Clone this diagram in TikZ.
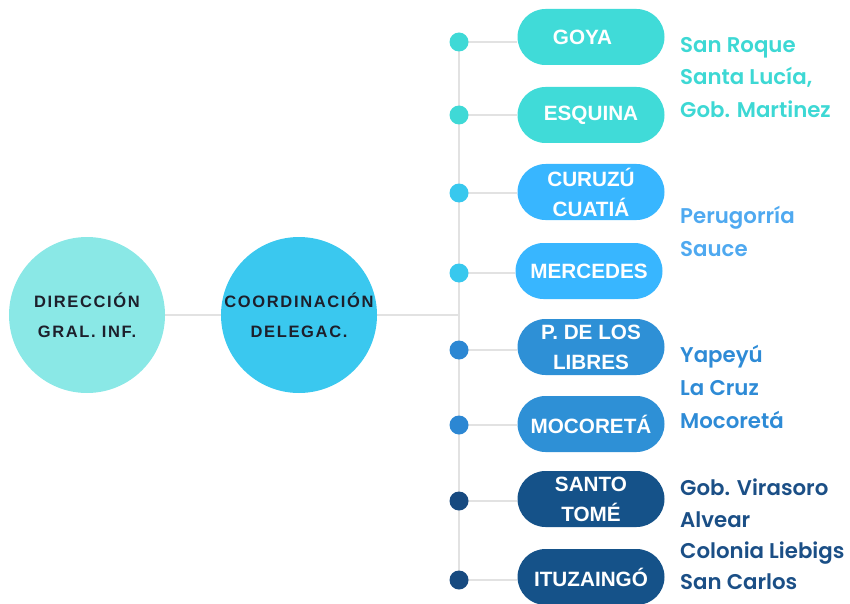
\documentclass[tikz,border=0pt]{standalone}
\usepackage{fontspec}
\setmainfont{Liberation Sans}
\newfontfamily\sidefont{Poppins SemiBold}
\newfontfamily\circfont{Liberation Sans}[LetterSpace=10]
\usetikzlibrary{backgrounds}
\definecolor{cA}{HTML}{8AE8E6}
\definecolor{cB}{HTML}{3AC8EF}
\definecolor{pT}{HTML}{40DBD8}
\definecolor{pC}{HTML}{38B6FF}
\definecolor{pM}{HTML}{2E90D6}
\definecolor{pD}{HTML}{155289}
\definecolor{dT}{HTML}{3FD9D6}
\definecolor{dC}{HTML}{38C8EE}
\definecolor{dM}{HTML}{2C87D3}
\definecolor{dD}{HTML}{174A80}
\definecolor{tT}{HTML}{3DD8D4}
\definecolor{tC}{HTML}{4FA9F0}
\definecolor{tM}{HTML}{2E8BD6}
\definecolor{tD}{HTML}{1B4F86}
\definecolor{lineg}{HTML}{E2E2E2}
\definecolor{darktxt}{HTML}{1D1F2B}
\begin{document}
\begin{tikzpicture}[x=1pt,y=-1pt,
  bigcirc/.style={circle,minimum size=156pt,inner sep=0pt,align=center,
    font=\circfont\bfseries\fontsize{16.5}{30}\selectfont,text=darktxt},
  pill/.style={rectangle,rounded corners=28pt,minimum width=147pt,minimum height=56pt,
    inner sep=0pt,align=center,text=white,font=\bfseries\fontsize{20.7}{30}\selectfont},
  dotn/.style={circle,minimum size=19pt,inner sep=0pt},
  side/.style={anchor=base west,inner sep=0pt,font=\sidefont\fontsize{21.3}{25}\selectfont},
  conn/.style={draw=lineg,line width=2.5pt}]
\useasboundingbox (0,0) rectangle (850,604);
% circles
\node[bigcirc,fill=cA] (c1) at (87,315) {DIRECCIÓN\\GRAL. INF.};
\node[bigcirc,fill=cB] (c2) at (299,315) {COORDINACIÓN\\DELEGAC.};
% dots
\node[dotn,fill=dT] (d1) at (459,42) {};
\node[dotn,fill=dT] (d2) at (459,115) {};
\node[dotn,fill=dC] (d3) at (459,193) {};
\node[dotn,fill=dC] (d4) at (459,273) {};
\node[dotn,fill=dM] (d5) at (459,350) {};
\node[dotn,fill=dM] (d6) at (459,425) {};
\node[dotn,fill=dD] (d7) at (459,501) {};
\node[dotn,fill=dD] (d8) at (459,580) {};
% pills
\node[pill,fill=pT] (p1) at (591,37) {GOYA\hspace*{17pt}};
\node[pill,fill=pT] (p2) at (591,115) {ESQUINA};
\node[pill,fill=pC] (p3) at (591,192) {CURUZÚ\\CUATIÁ};
\node[pill,fill=pC] (p4) at (589,271) {MERCEDES};
\node[pill,fill=pM] (p5) at (591,347) {P. DE LOS\\LIBRES};
\node[pill,fill=pM] (p6) at (591,424) {MOCORETÁ};
\node[pill,fill=pD] (p7) at (591,499) {SANTO\\TOMÉ};
\node[pill,fill=pD] (p8) at (591,577) {ITUZAINGÓ};
% side texts
\node[side,text=tT] (s1) at (680,53) {San Roque};
\node[side,text=tT] (s2) at (680,85) {Santa Lucía,};
\node[side,text=tT] (s3) at (680,118) {Gob. Martinez};
\node[side,text=tC] (s4) at (680,223) {Perugorría};
\node[side,text=tC] (s5) at (680,256) {Sauce};
\node[side,text=tM] (s6) at (680,362) {Yapeyú};
\node[side,text=tM] (s7) at (680,395) {La Cruz};
\node[side,text=tM] (s8) at (680,428) {Mocoretá};
\node[side,text=tD] (s9) at (680,495) {Gob. Virasoro};
\node[side,text=tD] (s10) at (680,527) {Alvear};
\node[side,text=tD] (s11) at (680,558) {Colonia Liebigs};
\node[side,text=tD] (s12) at (680,589) {San Carlos};
% connectors
\begin{scope}[on background layer]
\draw[conn] (c1) -- (c2);
\draw[conn] (c2) -- (c2 -| d1);
\draw[conn] (d1.center) -- (d8.center);
\foreach \i in {1,...,8}{\draw[conn] (d\i.center) -- (d\i -| p\i.west);}
\end{scope}
\end{tikzpicture}
\end{document}
